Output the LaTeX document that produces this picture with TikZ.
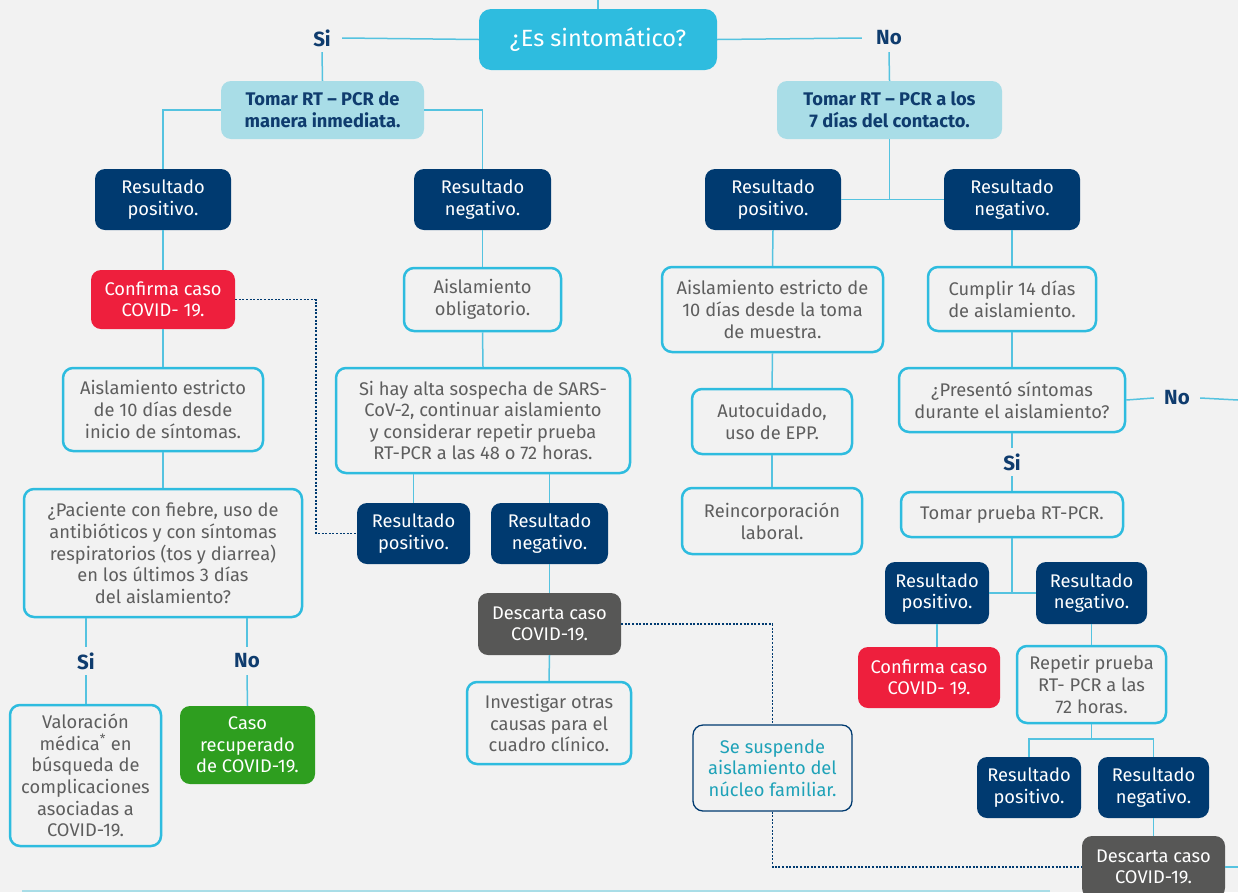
\documentclass[tikz,border=0pt]{standalone}
\usepackage{fontspec}
\setmainfont{Fira Sans}
\definecolor{bgc}{HTML}{F2F2F2}
\definecolor{cyanB}{HTML}{2EBCDF}
\definecolor{lineC}{HTML}{55C3E0}
\definecolor{lightC}{HTML}{A9DDE7}
\definecolor{navyF}{HTML}{003A70}
\definecolor{navyT}{HTML}{0F3C6E}
\definecolor{redF}{HTML}{EE1F3D}
\definecolor{greenF}{HTML}{2E9E1F}
\definecolor{grayF}{HTML}{575756}
\definecolor{grayT}{HTML}{5E5E5E}
\definecolor{tealT}{HTML}{1EA2B8}
\newcommand\bodyf{\fontsize{18.3}{21.6}\selectfont}
\newcommand\lblf{\fontsize{20.5}{22}\selectfont\bfseries}
\tikzset{
  base/.style={rounded corners=10pt, align=center, inner sep=0pt, font=\bodyf},
  sz/.style 2 args={minimum width=#1, minimum height=#2},
  solid/.style={base, fill=#1, text=white},
  outbox/.style={base, draw=cyanB, line width=2.5pt, fill=bgc, text=grayT},
  tombox/.style={base, fill=lightC, text=navyT, font=\bodyf\bfseries},
  lbl/.style={font=\lblf, text=navyT, inner sep=0pt, minimum width=40pt, minimum height=28pt},
  conn/.style={draw=lineC, line width=1.5pt},
  dots/.style={draw=navyF, line width=1.2pt, dash pattern=on 2pt off 1.6pt},
}
\begin{document}
\begin{tikzpicture}[x=1pt, y=-1pt]
\clip (0,0) rectangle (1238,892);
\fill[bgc] (0,0) rectangle (1238,892);
% bottom edge line
\coordinate (bl) at (22,891);
\coordinate (br) at (1050,891);
\draw[draw=lightC, line width=1.2pt] (bl) -- (br);

% top question
\node[solid=cyanB, sz={238pt}{61pt}, font=\fontsize{23.5}{26}\selectfont, rounded corners=12pt] (q) at (598,39.5) {¿Es sintomático?};
\coordinate (top) at (598,0);
\node[lbl] (si1) at (322,38) {Si};
\node[lbl, minimum width=54pt] (no1) at (889,38) {No};

\node[tombox, sz={203pt}{58pt}] (tomL) at (322.5,110) {Tomar RT – PCR de\\manera inmediata.};
\node[tombox, sz={225pt}{58pt}] (tomR) at (889.5,110) {Tomar RT – PCR a los\\7 días del contacto.};

\node[solid=navyF, sz={136pt}{61pt}] (rpL) at (163,199.5) {Resultado\\positivo.};
\node[solid=navyF, sz={137pt}{61pt}] (rnL) at (482.5,199.5) {Resultado\\negativo.};
\node[solid=navyF, sz={136pt}{61pt}] (rpR) at (773,199.5) {Resultado\\positivo.};
\node[solid=navyF, sz={136pt}{61pt}] (rnR) at (1012,199.5) {Resultado\\negativo.};

\node[solid=redF, sz={144pt}{59pt}] (confL) at (163,299.5) {Confirma caso\\COVID- 19.};
\node[outbox, sz={157pt}{63pt}] (aisObl) at (482.5,299.5) {Aislamiento\\obligatorio.};
\node[outbox, sz={221pt}{85pt}] (aisR) at (772.5,309.5) {Aislamiento estricto de\\10 días desde la toma\\de muestra.};
\node[outbox, sz={168pt}{64pt}] (cumplir) at (1012,299) {Cumplir 14 días\\de aislamiento.};

\node[outbox, sz={200pt}{83pt}] (aisL) at (163,409.5) {Aislamiento estricto\\de 10 días desde\\inicio de síntomas.};
\node[outbox, sz={294pt}{105pt}] (sosp) at (483,420.5) {Si hay alta sospecha de SARS-\\CoV-2, continuar aislamiento\\y considerar repetir prueba\\RT-PCR a las 48 o 72 horas.};
\node[outbox, sz={160pt}{65pt}] (auto) at (772,421.5) {Autocuidado,\\uso de EPP.};
\node[outbox, sz={226pt}{64pt}] (pres) at (1012,400) {¿Presentó síntomas\\durante el aislamiento?};
\node[lbl, minimum width=46pt] (noR) at (1177,398) {No};
\coordinate (noEnd) at (1238,400);
\node[lbl] (siR) at (1012,462) {Si};

\node[outbox, sz={180pt}{66pt}] (reinc) at (772,521) {Reincorporación\\laboral.};
\node[outbox, sz={222pt}{45pt}] (tomP) at (1012,514.5) {Tomar prueba RT-PCR.};

\node[outbox, sz={278pt}{128pt}] (pac) at (163,553) {¿Paciente con fiebre, uso de\\antibióticos y con síntomas\\respiratorios (tos y diarrea)\\en los últimos 3 días\\del aislamiento?};
\node[solid=navyF, sz={113pt}{61pt}] (rpM) at (413.5,533.5) {Resultado\\positivo.};
\node[solid=navyF, sz={117pt}{61pt}] (rnM) at (549.5,533.5) {Resultado\\negativo.};
\node[solid=navyF, sz={104pt}{62pt}] (rpR2) at (937,593) {Resultado\\positivo.};
\node[solid=navyF, sz={111pt}{62pt}] (rnR2) at (1091.5,593) {Resultado\\negativo.};

\node[solid=grayF, sz={143pt}{62pt}] (desM) at (549.5,624) {Descarta caso\\COVID-19.};
\node[lbl] (siL) at (86,661) {Si};
\node[lbl] (noL) at (247,661) {No};
\node[solid=redF, sz={142pt}{61pt}] (confR) at (929,677.5) {Confirma caso\\COVID- 19.};
\node[outbox, sz={149pt}{77pt}] (rep) at (1091.5,684.5) {Repetir prueba\\RT- PCR a las\\72 horas.};
\node[outbox, sz={164pt}{82pt}] (inv) at (549,723) {Investigar otras\\causas para el\\cuadro clínico.};
\node[outbox, sz={151pt}{141pt}] (valor) at (85.5,775.5) {Valoración\\médica\textsuperscript{*} en\\búsqueda de\\complicaciones\\asociadas a\\COVID-19.};
\node[solid=greenF, sz={135pt}{78pt}] (caso) at (247.5,745) {Caso\\recuperado\\de COVID-19.};
\node[base, draw=navyF, line width=1.3pt, fill=bgc, text=tealT, sz={159pt}{86pt}] (sesus) at (772.5,768) {Se suspende\\aislamiento del\\núcleo familiar.};
\node[solid=navyF, sz={104pt}{61pt}] (rpR3) at (1029,787.5) {Resultado\\positivo.};
\node[solid=navyF, sz={111pt}{61pt}] (rnR3) at (1153.5,787.5) {Resultado\\negativo.};
\node[solid=grayF, sz={143pt}{62pt}] (desR) at (1153.5,867) {Descarta caso\\COVID-19.};
\coordinate (desEnd) at (1238,867);

% connectors
\draw[conn] (top) -- (q.north);
\draw[conn] (q.west) -- (si1.east);
\draw[conn] (q.east) -- (no1.west);
\draw[conn] (si1.south) -- (tomL.north);
\draw[conn] (no1.south) -- (tomR.north);
\draw[conn] (tomL.west) -| (rpL.north);
\draw[conn] (tomL.east) -| (rnL.north);
\draw[conn] (tomR.south) -- (tomR.south |- rpR.east);
\draw[conn] (rpR.east) -- (rnR.west);
\draw[conn] (rpL.south) -- (confL.north);
\draw[conn] (confL.south) -- (aisL.north);
\draw[conn] (aisL.south) -- (pac.north);
\draw[conn] (siL.north) -- (siL.north |- pac.south);
\draw[conn] (siL.south) -- (valor.north -| siL.south);
\draw[conn] (noL.north) -- (noL.north |- pac.south);
\draw[conn] (noL.south) -- (caso.north);
\draw[conn] (rnL.south) -- (aisObl.north);
\draw[conn] (aisObl.south) -- (sosp.north);
\draw[conn] (rpM.north) -- (rpM.north |- sosp.south);
\draw[conn] (rnM.north) -- (rnM.north |- sosp.south);
\draw[conn] (rnM.south) -- (desM.north);
\draw[conn] (desM.south) -- (inv.north);
\draw[conn] (rpR.south) -- (aisR.north);
\draw[conn] (aisR.south) -- (auto.north);
\draw[conn] (auto.south) -- (reinc.north);
\draw[conn] (rnR.south) -- (cumplir.north);
\draw[conn] (cumplir.south) -- (pres.north);
\draw[conn] (pres.east) -- (noR.west);
\draw[conn] (noR.east) -- (noEnd);
\draw[conn] (pres.south) -- (siR.north);
\draw[conn] (siR.south) -- (tomP.north);
\draw[conn] (tomP.south) -- (tomP.south |- rpR2.east);
\draw[conn] (rpR2.east) -- (rnR2.west);
\draw[conn] (rpR2.south) -- (rpR2.south |- confR.north);
\draw[conn] (rnR2.south) -- (rep.north);
\coordinate (j) at (1091.5,739);
\draw[conn] (rep.south) -- (j);
\draw[conn] (rpR3.north) |- (j) -| (rnR3.north);
\draw[conn] (rnR3.south) -- (desR.north);
\draw[conn] (desR.east) -- (desEnd);

% dotted connectors
\coordinate (d1) at (316,299.5);
\draw[dots] (confL.east) -- (d1) |- (rpM.west);
\draw[dots] (desM.east) -| (sesus.north);
\draw[dots] (sesus.south) |- (desR.west);
\end{tikzpicture}
\end{document}
